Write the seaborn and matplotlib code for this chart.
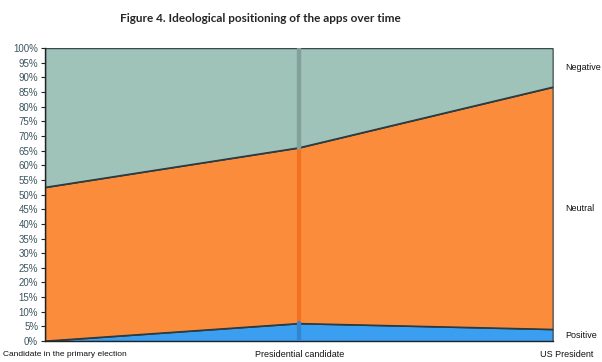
import numpy as np
import pandas as pd
import seaborn as sns
import matplotlib.pyplot as plt

# data (percent share per stage)
stages = ["Candidate in the primary election", "Presidential candidate", "US President"]
positive = [0.0, 6.0, 4.0]
neutral = [52.5, 60.0, 82.7]
negative = [47.5, 34.0, 13.3]
series_names = ["Positive", "Neutral", "Negative"]
colors = ["#3a9ff0", "#fb8c3c", "#9fc2b9"]

df = pd.DataFrame({"stage": stages, "Positive": positive,
                   "Neutral": neutral, "Negative": negative})

sns.set_style("white")
plt.rcParams['font.family'] = ['Liberation Sans', 'DejaVu Sans']

fig = plt.figure(figsize=(6.02, 3.62), dpi=100)
ax = fig.add_axes([0.075, 0.058, 0.843, 0.809])

x = np.arange(len(stages))
ys = [df[n].values for n in series_names]
ax.stackplot(x, *ys, colors=colors, edgecolor="#2b3a40", linewidth=0.8)

# boundary lines drawn on top
cum = np.cumsum(ys, axis=0)
for row in cum[:-1]:
    sns.lineplot(x=x, y=row, ax=ax, color="#2b3a40", linewidth=0.9, legend=False)

# depth divider at the middle stage
ax.axvline(1, color="#f26a1b", linewidth=3, alpha=0.8, zorder=3)
ax.axvline(1, ymin=float(cum[1][1] / 100), ymax=1, color="#7fa39c", linewidth=3, zorder=3)
ax.axvline(1, ymin=0, ymax=float(cum[0][1] / 100), color="#2d86d6", linewidth=3, zorder=3)

ax.set_xlim(0, 2)
ax.set_ylim(0, 100)
ax.set_yticks(np.arange(0, 101, 5))
ax.set_yticklabels([f"{v}%" for v in range(0, 101, 5)], color="#3d5560", fontsize=7)
ax.tick_params(axis="y", length=3, width=0.8, color="#222222", pad=2, left=True)
ax.set_xticks(x)
ax.set_xticklabels([])
ax.tick_params(axis="x", length=0)

# category labels placed under the chart
fig.text(0.005, 0.022, stages[0], fontsize=6, color="#111111", ha="left", va="center")
fig.text(0.498, 0.022, stages[1], fontsize=6.5, color="#111111", ha="center", va="center")
fig.text(0.942, 0.022, stages[2], fontsize=6.5, color="#111111", ha="center", va="center")

for s in ["top", "right"]:
    ax.spines[s].set_visible(False)
ax.spines["left"].set_color("#222222")
ax.spines["bottom"].set_color("#222222")
ax.spines["left"].set_linewidth(1.0)
ax.spines["bottom"].set_linewidth(1.0)

# series labels at the right end
bottoms = np.concatenate([[0], cum[:-1, -1]])
for name, b, t in zip(series_names, bottoms, cum[:, -1]):
    ax.text(2.05, (b + t) / 2, name, fontsize=6.5, color="#111111",
            va="center", ha="left", clip_on=False)

fig.suptitle("Figure 4. Ideological positioning of the apps over time",
             x=0.433, y=0.965, fontsize=8.5, fontweight="bold", family=["Lato", "DejaVu Sans"])

fig.savefig("out.png", dpi=100)
